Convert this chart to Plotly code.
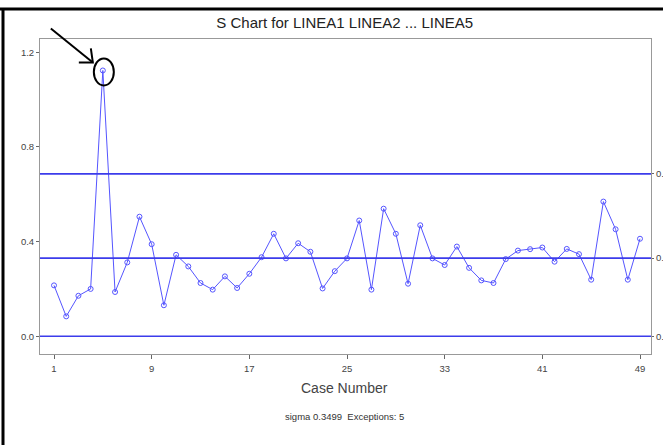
import plotly.graph_objects as go

# ---- data ----
cases = list(range(1, 50))
s_values = [0.215, 0.084, 0.171, 0.200, 1.123, 0.187, 0.312, 0.505, 0.389, 0.131,
            0.344, 0.295, 0.225, 0.197, 0.253, 0.204, 0.264, 0.334, 0.433, 0.329,
            0.393, 0.357, 0.202, 0.275, 0.329, 0.489, 0.197, 0.539, 0.433, 0.222,
            0.469, 0.329, 0.301, 0.379, 0.289, 0.236, 0.225, 0.326, 0.362, 0.368,
            0.375, 0.315, 0.369, 0.347, 0.239, 0.569, 0.452, 0.239, 0.412]
ucl = 0.686
center = 0.330
lcl = 0.000
control_labels = ["0.000", "0.330", "0.686"]
x_tickvals = [1, 9, 17, 25, 33, 41, 49]
y_tickvals = [0.0, 0.4, 0.8, 1.2]
y_ticktext = ["0.0", "0.4", "0.8", "1.2"]
title_text = "S Chart for LINEA1 LINEA2 ... LINEA5"
x_title = "Case Number"
footer_text = "sigma 0.3499  Exceptions: 5"

# ---- layout geometry ----
W, H = 663, 445
ML, MR, MT, MB = 40, 12, 39, 91
PW, PH = W - ML - MR, H - MT - MB
XR = [-0.147, 49.9]
YR = [-0.075, 1.256]

FONT = "Liberation Sans, Arial, sans-serif"
LINE_BLUE = "rgb(85,85,255)"
CTRL_BLUE = "rgb(60,60,235)"

fig = go.Figure()

# control lines on the right-hand axis
for val in [ucl, center, lcl]:
    fig.add_trace(go.Scatter(x=[XR[0], XR[1]], y=[val, val], mode="lines",
                             line=dict(color=CTRL_BLUE, width=1.6),
                             yaxis="y2", hoverinfo="skip", showlegend=False))

fig.add_trace(go.Scatter(x=cases, y=s_values, mode="lines+markers",
                         line=dict(color=LINE_BLUE, width=1),
                         marker=dict(symbol="circle-open", size=5,
                                     color=LINE_BLUE, line=dict(width=1)),
                         showlegend=False))

# highlight of the out-of-control peak
peak_i = max(range(len(s_values)), key=lambda i: s_values[i])
px = (cases[peak_i] - XR[0]) / (XR[1] - XR[0])
py = (s_values[peak_i] - YR[0]) / (YR[1] - YR[0])


def off(dx, dy):
    return px + dx / PW, py - dy / PH


shapes = []
cx, cy = off(1, 1.5)
shapes.append(dict(type="circle", xref="paper", yref="paper",
                   x0=cx - 10 / PW, x1=cx + 10 / PW, y0=cy - 13.5 / PH, y1=cy + 13.5 / PH,
                   line=dict(color="black", width=2)))
tail = off(-52, -42)
tip = off(-10, -8)
b1 = off(-24, -8)
b2 = off(-12, -22)
shapes.append(dict(type="path", xref="paper", yref="paper",
                   path=f"M{tail[0]},{tail[1]} L{tip[0]},{tip[1]}",
                   line=dict(color="black", width=2)))
shapes.append(dict(type="path", xref="paper", yref="paper",
                   path=f"M{b1[0]},{b1[1]} L{tip[0]},{tip[1]} L{b2[0]},{b2[1]}",
                   line=dict(color="black", width=2)))
# black frame of the picture (top and left)
shapes.append(dict(type="line", xref="paper", yref="paper",
                   x0=(0 - ML) / PW, x1=(W + 5 - ML) / PW,
                   y0=(H - MB - 9) / PH, y1=(H - MB - 9) / PH,
                   line=dict(color="black", width=3)))
shapes.append(dict(type="line", xref="paper", yref="paper",
                   x0=(3 - ML) / PW, x1=(3 - ML) / PW,
                   y0=(H - MB - 8) / PH, y1=(H - MB - H - 5) / PH,
                   line=dict(color="black", width=3)))

annotations = [
    dict(text=x_title, xref="paper", yref="paper", x=(344.6 - ML) / PW,
         y=(H - MB - 388) / PH, xanchor="center", yanchor="middle", showarrow=False,
         font=dict(family=FONT, size=14, color="#444")),
    dict(text=footer_text, xref="paper", yref="paper", x=(344.6 - ML) / PW,
         y=(H - MB - 416) / PH, xanchor="center", yanchor="middle", showarrow=False,
         font=dict(family=FONT, size=9.5, color="#333")),
]

fig.update_layout(
    width=W, height=H,
    margin=dict(l=ML, r=MR, t=MT, b=MB, pad=0, autoexpand=False),
    paper_bgcolor="white", plot_bgcolor="white",
    title=dict(text=title_text, x=344.7 / W, xanchor="center",
               y=1 - 23 / H, yanchor="middle", yref="container",
               font=dict(family=FONT, size=15, color="#222")),
    xaxis=dict(range=XR, tickvals=x_tickvals, showgrid=False, zeroline=False,
               showline=True, linecolor="#999", linewidth=1, mirror=True,
               ticks="outside", ticklen=4, tickcolor="#666", automargin=False,
               tickfont=dict(family=FONT, size=9.5, color="#444"),
               ticklabelstandoff=2),
    yaxis=dict(range=YR, tickvals=y_tickvals, ticktext=y_ticktext, showgrid=False,
               zeroline=False, showline=True, linecolor="#999", linewidth=1,
               mirror=True, ticks="outside", ticklen=3, tickcolor="#666",
               automargin=False,
               tickfont=dict(family=FONT, size=9.5, color="#444")),
    yaxis2=dict(range=YR, overlaying="y", side="right", tickvals=[lcl, center, ucl],
                ticktext=control_labels, showgrid=False, zeroline=False,
                showline=False, ticks="outside", ticklen=2, tickcolor="#666",
                automargin=False,
                tickfont=dict(family=FONT, size=9.5, color="#444")),
    shapes=shapes,
    annotations=annotations,
)

fig.write_html("out.html")
